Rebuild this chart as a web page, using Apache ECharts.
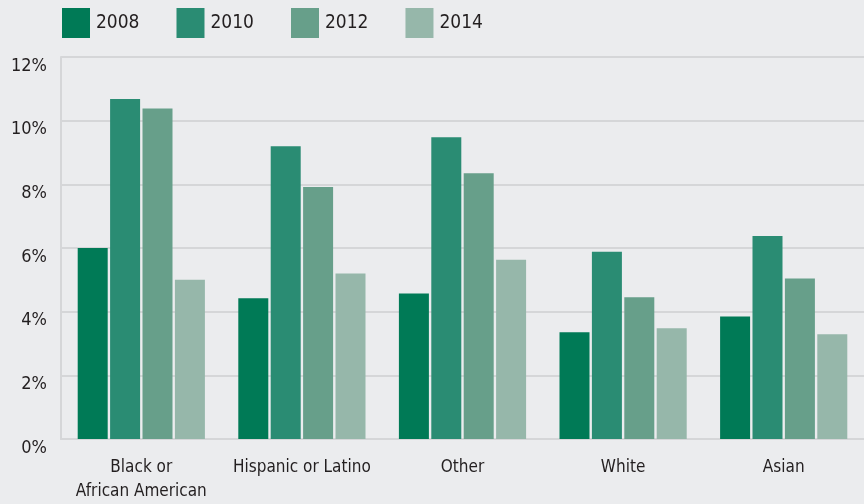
<!DOCTYPE html>
<html><head><meta charset="utf-8">
<script src="https://cdn.jsdelivr.net/npm/echarts@6/dist/echarts.min.js"></script>
<style>html,body{margin:0;padding:0;background:#ebecee;}#c{width:864px;height:504px;}</style>
</head><body><div id="c"></div>
<script>
const categories = ['Black or\nAfrican American', 'Hispanic or Latino', 'Other', 'White', 'Asian'];
const years = ['2008', '2010', '2012', '2014'];
const v2008 = [6.0, 4.42, 4.57, 3.35, 3.85];
const v2010 = [10.68, 9.2, 9.48, 5.88, 6.38];
const v2012 = [10.38, 7.92, 8.35, 4.45, 5.04];
const v2014 = [5.0, 5.2, 5.63, 3.48, 3.29];
const colors = ['#007a56', '#2a8c73', '#679f8a', '#96b7aa'];
const FONT = '"DejaVu Sans Condensed", "Liberation Sans Narrow", sans-serif';
const chart = echarts.init(document.getElementById('c'));
const seriesData = [v2008, v2010, v2012, v2014];
chart.setOption({
  backgroundColor: '#ebecee',
  animation: false,
  textStyle: { fontFamily: FONT, color: '#231f20' },
  legend: {
    left: 62, top: 8, padding: 0, itemWidth: 28, itemHeight: 30, itemGap: 37, icon: 'rect',
    textStyle: { fontFamily: FONT, fontSize: 19, color: '#231f20', padding: [0, 0, 0, 1] },
    data: years
  },
  grid: { left: 61, right: 0, top: 57, bottom: 64, containLabel: false },
  xAxis: {
    type: 'category', data: categories,
    axisLine: { show: true, lineStyle: { color: '#d5d6d8', width: 2 } },
    axisTick: { show: false },
    axisLabel: { interval: 0, fontFamily: FONT, fontSize: 17, color: '#231f20', margin: 17, lineHeight: 24 }
  },
  yAxis: {
    type: 'value', min: 0, max: 12, interval: 2,
    axisLine: { show: true, lineStyle: { color: '#d5d6d8', width: 2 } },
    axisTick: { show: false },
    splitLine: { lineStyle: { color: '#d5d6d8', width: 2 } },
    axisLabel: { fontFamily: FONT, fontSize: 18, color: '#231f20', margin: 14, verticalAlign: 'top', formatter: '{value}%' }
  },
  series: years.map((y, i) => ({
    name: y, type: 'bar', data: seriesData[i], barWidth: 30, barGap: '8%',
    itemStyle: { color: colors[i] }
  }))
});
</script></body></html>
